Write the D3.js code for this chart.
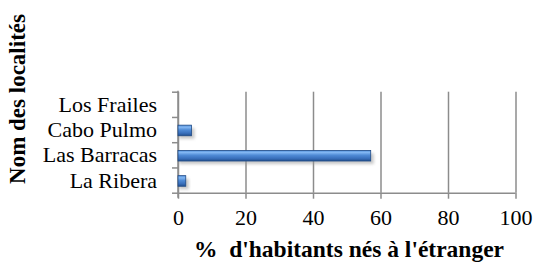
<!DOCTYPE html>
<html>
<head>
<meta charset="utf-8">
<script src="https://cdn.jsdelivr.net/npm/d3@7"></script>
<style>
  body { margin: 0; background: #fff; }
  svg { display: block; }
</style>
</head>
<body>
<div id="chart"></div>
<script>
// data
const localites = ["La Ribera", "Las Barracas", "Cabo Pulmo", "Los Frailes"];
const pctEtranger = [2.3, 57.1, 4.0, 0];
const xTicks = [0, 20, 40, 60, 80, 100];

const W = 539, H = 263;
const plot = { left: 178, right: 515.5, top: 91.7, bottom: 192.7 };
const serif = "'Liberation Serif', serif";

const svg = d3.select("#chart").append("svg")
  .attr("width", W).attr("height", H);

const defs = svg.append("defs");
const grad = defs.append("linearGradient")
  .attr("id", "barGrad").attr("x1", 0).attr("y1", 0).attr("x2", 0).attr("y2", 1);
[[0, "#5592dc"], [0.2, "#82b6f2"], [0.45, "#4f8bd6"], [0.75, "#3a70bc"], [1, "#22508f"]]
  .forEach(s => grad.append("stop").attr("offset", s[0]).attr("stop-color", s[1]));
defs.append("filter").attr("id", "shadow")
  .attr("x", "-20%").attr("y", "-50%").attr("width", "140%").attr("height", "200%")
  .append("feGaussianBlur").attr("stdDeviation", 1.5);

const x = d3.scaleLinear().domain([0, 100]).range([plot.left, plot.right]);
// bottom-up order like the original
const y = d3.scaleBand().domain(localites).range([plot.bottom, plot.top]).paddingInner(0.58).paddingOuter(0.29).align(0.56);
const yEdges = d3.scaleLinear().domain([0, localites.length]).range([plot.bottom, plot.top]);

const gridCol = "#8c8c8c";

// vertical gridlines
svg.append("g")
  .attr("transform", `translate(0,${plot.bottom})`)
  .call(d3.axisBottom(x).tickValues(xTicks).tickSize(-(plot.bottom - plot.top)).tickFormat(""))
  .call(g => g.select(".domain").remove())
  .call(g => g.selectAll("line").attr("stroke", gridCol).attr("stroke-width", 1.5));

// x axis
svg.append("g")
  .attr("transform", `translate(0,${plot.bottom})`)
  .call(d3.axisBottom(x).tickValues(xTicks).tickSize(6).tickPadding(11))
  .call(g => g.select(".domain").attr("stroke", gridCol).attr("stroke-width", 1.5).attr("d", `M${plot.left},0.5H${plot.right}`))
  .call(g => g.selectAll("line").attr("stroke", gridCol).attr("stroke-width", 1.5))
  .call(g => g.selectAll("text").attr("fill", "#000")
    .style("font-family", serif).style("font-size", "22px"));

// y axis line and category boundary ticks
svg.append("g")
  .attr("transform", `translate(${plot.left},0)`)
  .call(d3.axisLeft(yEdges).ticks(4).tickSize(6).tickFormat(""))
  .call(g => g.select(".domain").attr("stroke", gridCol).attr("stroke-width", 1.5)
    .attr("d", `M0,${plot.top - 1}V${plot.bottom + 5}`))
  .call(g => g.selectAll("line").attr("stroke", gridCol).attr("stroke-width", 1.5));

// category labels
svg.append("g").selectAll("text").data(localites).join("text")
  .attr("x", 157)
  .attr("y", d => yEdges(localites.indexOf(d) + 0.5))
  .attr("dy", "0.34em")
  .attr("text-anchor", "end")
  .style("font-family", serif)
  .style("font-size", "22px")
  .text(d => d);

// bars with soft shadow
const bars = svg.append("g");
const data = localites.map((d, i) => ({ name: d, v: pctEtranger[i] })).filter(d => d.v > 0);
bars.selectAll("rect.sh").data(data).join("rect")
  .attr("class", "sh")
  .attr("x", x(0) + 1)
  .attr("y", d => y(d.name) + 3)
  .attr("width", d => x(d.v) - x(0) + 2)
  .attr("height", y.bandwidth())
  .attr("fill", "#9a9a9a").attr("opacity", 0.55)
  .attr("filter", "url(#shadow)");
bars.selectAll("rect.bar").data(data).join("rect")
  .attr("class", "bar")
  .attr("x", x(0))
  .attr("y", d => y(d.name))
  .attr("width", d => x(d.v) - x(0))
  .attr("height", y.bandwidth())
  .attr("fill", "url(#barGrad)")
  .attr("stroke", "#1f4a86").attr("stroke-width", 0.8);

// axis titles
svg.append("text")
  .attr("x", 349).attr("y", 256.5)
  .attr("text-anchor", "middle")
  .style("white-space", "pre")
  .style("font-family", serif)
  .style("font-weight", "bold").style("font-size", "23.5px")
  .text("%  d'habitants nés à l'étranger");

svg.append("text")
  .attr("transform", "translate(25,99) rotate(-90)")
  .attr("text-anchor", "middle")
  .style("font-family", serif)
  .style("font-weight", "bold").style("font-size", "23px")
  .text("Nom des localités");
</script>
</body>
</html>
